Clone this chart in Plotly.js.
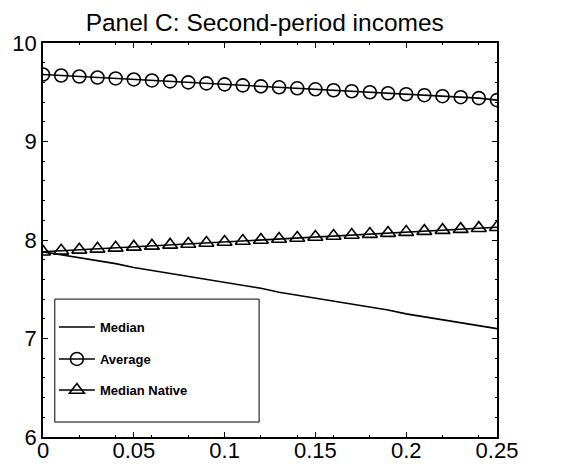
<!DOCTYPE html>
<html><head><meta charset="utf-8">
<script src="https://cdn.plot.ly/plotly-3.0.1.min.js"></script>
<style>body{margin:0;background:#fff}#c{width:578px;height:474px}</style>
</head><body><div id="c"></div>
<script>
var shares = [0,0.01,0.02,0.03,0.04,0.05,0.06,0.07,0.08,0.09,0.10,0.11,0.12,0.13,0.14,0.15,0.16,0.17,0.18,0.19,0.20,0.21,0.22,0.23,0.24,0.25];
var median = [7.88,7.85,7.82,7.79,7.76,7.72,7.69,7.66,7.63,7.60,7.57,7.54,7.51,7.47,7.44,7.41,7.38,7.35,7.32,7.29,7.25,7.22,7.19,7.16,7.13,7.10];
var average = [9.68,9.67,9.66,9.65,9.64,9.63,9.62,9.61,9.60,9.59,9.58,9.57,9.56,9.55,9.54,9.53,9.52,9.51,9.50,9.49,9.48,9.47,9.46,9.45,9.44,9.42];
var medianNative = [7.88,7.89,7.90,7.91,7.92,7.93,7.94,7.95,7.96,7.97,7.98,7.99,8.00,8.01,8.02,8.03,8.04,8.05,8.06,8.07,8.08,8.09,8.10,8.11,8.12,8.13];
var xTicks = [0,0.05,0.1,0.15,0.2,0.25];
var xTickText = ['0','0.05','0.1','0.15','0.2','0.25'];
var yTicks = [6,7,8,9,10];

var fontFam = 'Liberation Sans, Arial, sans-serif';
var lineStyle = {color:'#000', width:1.6};
var traces = [
  {x:shares, y:median, name:'Median', mode:'lines', line:lineStyle, legend:'legend'},
  {x:shares, y:average, name:'Average', mode:'lines+markers', line:lineStyle, legend:'legend2',
   marker:{symbol:'circle-open', size:13, color:'#000', line:{width:1.6,color:'#000'}}},
  {x:shares, y:medianNative, name:'Median Native', mode:'lines+markers', line:lineStyle, legend:'legend3',
   marker:{symbol:'triangle-up-open', size:13, color:'#000', line:{width:1.6,color:'#000'}}}
];
var axisCommon = {showgrid:false, zeroline:false, showline:true, linecolor:'#000', linewidth:1.5,
  mirror:'ticks', ticks:'inside', ticklen:5, tickcolor:'#000', tickwidth:1,
  tickfont:{family:fontFam, size:22, color:'#000'},
  minor:{ticks:'inside', ticklen:2, tickcolor:'#000', nticks:5}};
function leg(y){
  return {x:0.024, y:y, xanchor:'left', yanchor:'middle', bgcolor:'rgba(0,0,0,0)', borderwidth:0,
    font:{family:fontFam, size:13, color:'#000', weight:'bold'}, itemwidth:36};
}
var layout = {
  width:578, height:474,
  margin:{l:43, r:81, t:43, b:37},
  paper_bgcolor:'#fff', plot_bgcolor:'#fff',
  title:{text:'Panel C: Second-period incomes', x:0.458, xanchor:'center', y:0.953, yanchor:'middle',
    font:{family:fontFam, size:24.5, color:'#000'}},
  xaxis:Object.assign({}, axisCommon, {range:[0,0.25], tickvals:xTicks, ticktext:xTickText, ticklabelstandoff:-7}),
  yaxis:Object.assign({}, axisCommon, {range:[6,10], tickvals:yTicks}),
  showlegend:true,
  legend:leg(0.279), legend2:leg(0.198), legend3:leg(0.119),
  shapes:[{type:'rect', xref:'paper', yref:'paper', x0:0.026, x1:0.476, y0:0.038, y1:0.35,
    line:{color:'#000', width:1}, fillcolor:'#fff', layer:'above'}]
};
Plotly.newPlot('c', traces, layout, {displayModeBar:false});
</script></body></html>
